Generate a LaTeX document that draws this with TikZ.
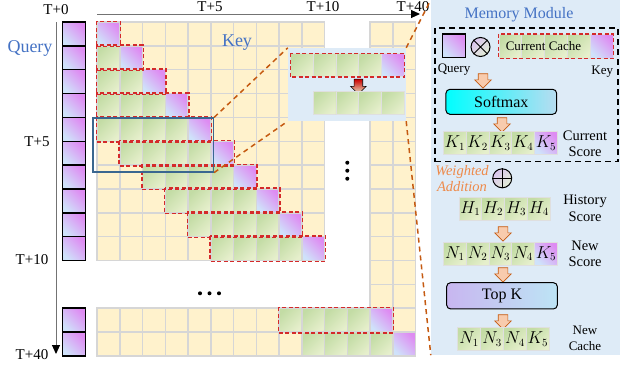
\documentclass[tikz,border=0pt]{standalone}
\usepackage{fontspec}
\setmainfont{Liberation Serif}
\usetikzlibrary{arrows.meta, shapes.arrows, positioning}

\definecolor{keyyellow}{HTML}{FFF2CC}
\definecolor{gridgray}{HTML}{D6D6D6}
\definecolor{cachered}{HTML}{D42A2A}
\definecolor{labelblue}{HTML}{4472C4}
\definecolor{zoomorange}{HTML}{C55A11}
\definecolor{panelblue}{HTML}{DEEBF7}
\definecolor{frameblue}{HTML}{3A6790}
\definecolor{greendark}{HTML}{C3DCA5}
\definecolor{greenlight}{HTML}{E6EFCC}
\definecolor{purpletop}{HTML}{DE8BF2}
\definecolor{purplelow}{HTML}{CFE2FA}
\definecolor{arrowfill}{HTML}{F8CBAD}
\definecolor{weightorange}{HTML}{EE8A4A}
\definecolor{softblue}{HTML}{B8DCF0}
\definecolor{topkviolet}{HTML}{C8B6F0}
\definecolor{topkblue}{HTML}{BDE4F5}
\definecolor{opviolet}{HTML}{D9C4EE}
\definecolor{opgreen}{HTML}{E3EFD6}

\tikzset{
    key_cell/.style={draw=gridgray, line width=1.5pt, fill=keyyellow, inner sep=0pt,
        minimum width=22.75pt, minimum height=23.85pt},
    green_cell/.style={key_cell, left color=greendark, right color=greenlight, shading angle=45},
    new_cell/.style={key_cell, left color=purplelow, right color=purpletop, shading angle=135},
    query_cell/.style={new_cell, draw=black, minimum width=23.4pt},
    inset_cell/.style={green_cell, draw=white!75!gray, line width=0.8pt, minimum width=22.66pt, minimum height=23pt},
    mem_cell/.style={green_cell, draw=white!75!gray, line width=0.8pt, minimum width=22.8pt,
        minimum height=23pt, font=\fontsize{16}{18}\selectfont},
    mem_new/.style={mem_cell, left color=purplelow, right color=purpletop, shading angle=135},
    cache_box/.style={draw=cachered, line width=1.5pt, dash pattern=on 4pt off 2.5pt},
    time_axis/.style={draw=black!55, line width=1pt, -{Triangle[length=9pt, width=8pt, color=black]}},
    time_label/.style={font=\fontsize{15}{17}\selectfont, inner sep=0pt},
    blue_label/.style={font=\fontsize{18}{20}\selectfont, text=labelblue, inner sep=0pt},
    zoom_frame/.style={draw=frameblue, line width=1.2pt, inner sep=0pt},
    zoom_line/.style={draw=zoomorange, line width=1.5pt, dash pattern=on 5pt off 4pt},
    inset_panel/.style={fill=panelblue, inner sep=0pt},
    vnode/.style={circle, fill=black, inner sep=0pt, minimum size=4pt},
    flow_arrow/.style={single arrow, draw=zoomorange, line width=0.6pt, fill=arrowfill,
        shape border rotate=270, inner sep=4.5pt, minimum height=13pt,
        single arrow head extend=3.5pt, single arrow head indent=0pt},
    evict_arrow/.style={single arrow, draw=black, line width=0.6pt, top color=red!80!black,
        bottom color=greenlight, shape border rotate=270, inner sep=4pt, minimum height=15pt,
        single arrow head extend=3.5pt},
    op_box/.style={draw=black, line width=1pt, rounded corners=4pt, minimum width=110.7pt,
        minimum height=25pt, font=\fontsize{16}{18}\selectfont},
    op_circle/.style={circle, draw=black, line width=1pt, minimum size=19pt, inner sep=0pt,
        left color=opviolet, right color=opgreen, shading angle=45},
    cur_frame/.style={draw=black, line width=1.5pt, dash pattern=on 6pt off 4pt, inner sep=0pt},
    side_label/.style={align=center, font=\fontsize{14.5}{16.5}\selectfont, inner sep=0pt},
    small_label/.style={font=\fontsize{13}{15}\selectfont, inner sep=0pt}
}

\begin{document}
\begin{tikzpicture}[x=1pt, y=-1pt]
    \useasboundingbox (0,0) rectangle (620,367);
    % memory module background
    \node[inset_panel, minimum width=189pt, minimum height=355pt] (mem) at (525.5,177.5) {};
    % key grid, rows 10-11 and columns 10-11 left out
    \foreach \row in {0,...,13}
        \foreach \col in {0,...,13} {
            \pgfmathtruncatemacro{\hide}{((\row>9) && (\row<12) && (\col<12)) || ((\col>9) && (\col<12) && (\row<12))}
            \ifnum\hide=0
                \def\cellstyle{key_cell}
                \ifnum\col=\row \def\cellstyle{new_cell}\fi
                \pgfmathtruncatemacro{\cached}{(\col<\row) && (\col>\row-5)}
                \ifnum\cached=1 \def\cellstyle{green_cell}\fi
                \node[\cellstyle] (g\row-\col) at ({108.375+22.75*\col},{33.925+23.85*\row}) {};
            \fi
        }
    % cache windows
    \foreach \row in {0,...,9,12} {
        \pgfmathtruncatemacro{\first}{max(0,\row-4)}
        \draw[cache_box] (g\row-\first.north west) rectangle (g\row-\row.south east);
    }
    % query column
    \foreach \row in {0,...,9,12,13}
        \node[query_cell] (q\row) at (74,{33.925+23.85*\row}) {};
    % time axes
    \coordinate (t_start) at (97,14);
    \coordinate (t_end) at (420,14);
    \draw[time_axis] (t_start) -- (t_end);
    \coordinate (q_start) at (56,22);
    \coordinate (q_end) at (56,354);
    \draw[time_axis] (q_start) -- (q_end);
    \node[time_label] (top_t0) at (56,10) {T+0};
    \node[time_label] (top_t5) at (210,6.5) {T+5};
    \node[time_label] (top_t10) at (323,6.5) {T+10};
    \node[time_label] (top_t40) at (413,6.5) {T+40};
    \node[time_label] (left_t5) at (37,142) {T+5};
    \node[time_label] (left_t10) at (32,260) {T+10};
    \node[time_label] (left_t40) at (32,355) {T+40};
    \node[blue_label] (query_lbl) at (30,48) {Query};
    \node[blue_label] (key_lbl) at (237,43) {Key};
    % skipped rows and columns
    \foreach \k in {0,1,2}
        \node[vnode] (vdot\k) at (347.3,{162.7+8*\k}) {};
    \foreach \k in {0,1,2}
        \node[vnode] (hdot\k) at ({200+9.5*\k},293.3) {};
    % zoomed cache update
    \node[zoom_frame, minimum width=120.5pt, minimum height=54pt] (zsrc) at (153.25,145) {};
    \node[inset_panel, minimum width=118pt, minimum height=73pt] (zdst) at (347,84.5) {};
    \foreach \k in {0,...,3}
        \node[inset_cell] (zin\k) at ({302+22.66*\k},65.3) {};
    \node[inset_cell, left color=purplelow, right color=purpletop, shading angle=135] (zin4) at (392.64,65.3) {};
    \draw[cache_box] (zin0.north west) rectangle (zin4.south east);
    \node[evict_arrow] (zarrow) at (358.4,84.5) {};
    \foreach \k in {1,...,4}
        \node[inset_cell] (zout\k) at ({302+22.66*\k},103) {};
    \draw[zoom_line] (zsrc.north east) -- (zdst.north west);
    \draw[zoom_line] (zsrc.south east) -- (zdst.south west);
    \draw[zoom_line] (zdst.north east) -- (mem.north west);
    \draw[zoom_line] (zdst.south east) -- (mem.south west);
    % memory module
    \node[font=\fontsize{16}{18}\selectfont, text=labelblue] (mem_title) at (519,15) {Memory Module};
    \node[cur_frame, minimum width=183pt, minimum height=133.7pt] (curframe) at (526.5,94.85) {};
    \node[query_cell, minimum width=23pt, minimum height=23.7pt] (mq) at (454.2,45.8) {};
    \node[small_label] (mq_lbl) at (454,69.3) {Query};
    \node[op_circle] (mul) at (480.5,47) {};
    \draw[line width=1pt] (mul.north east) -- (mul.south west) (mul.north west) -- (mul.south east);
    \foreach \k in {0,...,3}
        \node[mem_cell, minimum height=24pt] (cc\k) at ({510.4+22.8*\k},46.2) {};
    \node[mem_new, minimum height=24pt] (cc4) at (601.6,46.2) {};
    \draw[cache_box] (cc0.north west) rectangle (cc4.south east);
    \node[small_label] (cc_lbl) at (543.5,46.5) {Current Cache};
    \node[small_label] (mk_lbl) at (602.3,71.7) {Key};
    \node[flow_arrow] (arr1) at (483,78.5) {};
    \node[op_box, left color=cyan, right color=softblue] (softmax) at (501.3,101.8) {Softmax};
    \node[flow_arrow] (arr2) at (502,122.5) {};
    % current score
    \foreach \k in {1,...,4}
        \node[mem_cell] (k\k) at ({432+22.8*\k},143) {$K_{\k}$};
    \node[mem_new] (k5) at (546,143) {$K_5$};
    \node[side_label] (cur_score) at (585,144) {Current\\Score};
    % weighted addition with history
    \node[side_label, font=\itshape\fontsize{14.5}{16.7}\selectfont, text=weightorange] (weighted) at (462,178.5) {Weighted\\Addition};
    \node[op_circle] (add) at (502.2,178.3) {};
    \draw[line width=1pt] (add.north) -- (add.south) (add.west) -- (add.east);
    \foreach \k in {1,...,4}
        \node[mem_cell] (h\k) at ({447.6+22.8*\k},208.7) {$H_{\k}$};
    \node[side_label] (hist_score) at (585,208.5) {History\\Score};
    \node[flow_arrow] (arr3) at (503,231.5) {};
    % new score
    \foreach \k in {1,...,4}
        \node[mem_cell] (n\k) at ({432+22.8*\k},253.5) {$N_{\k}$};
    \node[mem_new] (nk5) at (546,253.5) {$K_5$};
    \node[side_label] (new_score) at (585,254) {New\\Score};
    \node[flow_arrow] (arr4) at (503,272.5) {};
    \node[op_box, left color=topkviolet, right color=topkblue, minimum height=26.3pt] (topk) at (502,295.8) {Top K};
    \node[flow_arrow] (arr5) at (503,319.5) {};
    % new cache
    \foreach \lbl [count=\k] in {N_1,N_3,N_4,K_5}
        \node[mem_cell] (f\k) at ({446.3+22.9*\k},339.2) {$\lbl$};
    \node[side_label, font=\fontsize{13}{16}\selectfont] (new_cache) at (585,338) {New\\Cache};
\end{tikzpicture}
\end{document}
